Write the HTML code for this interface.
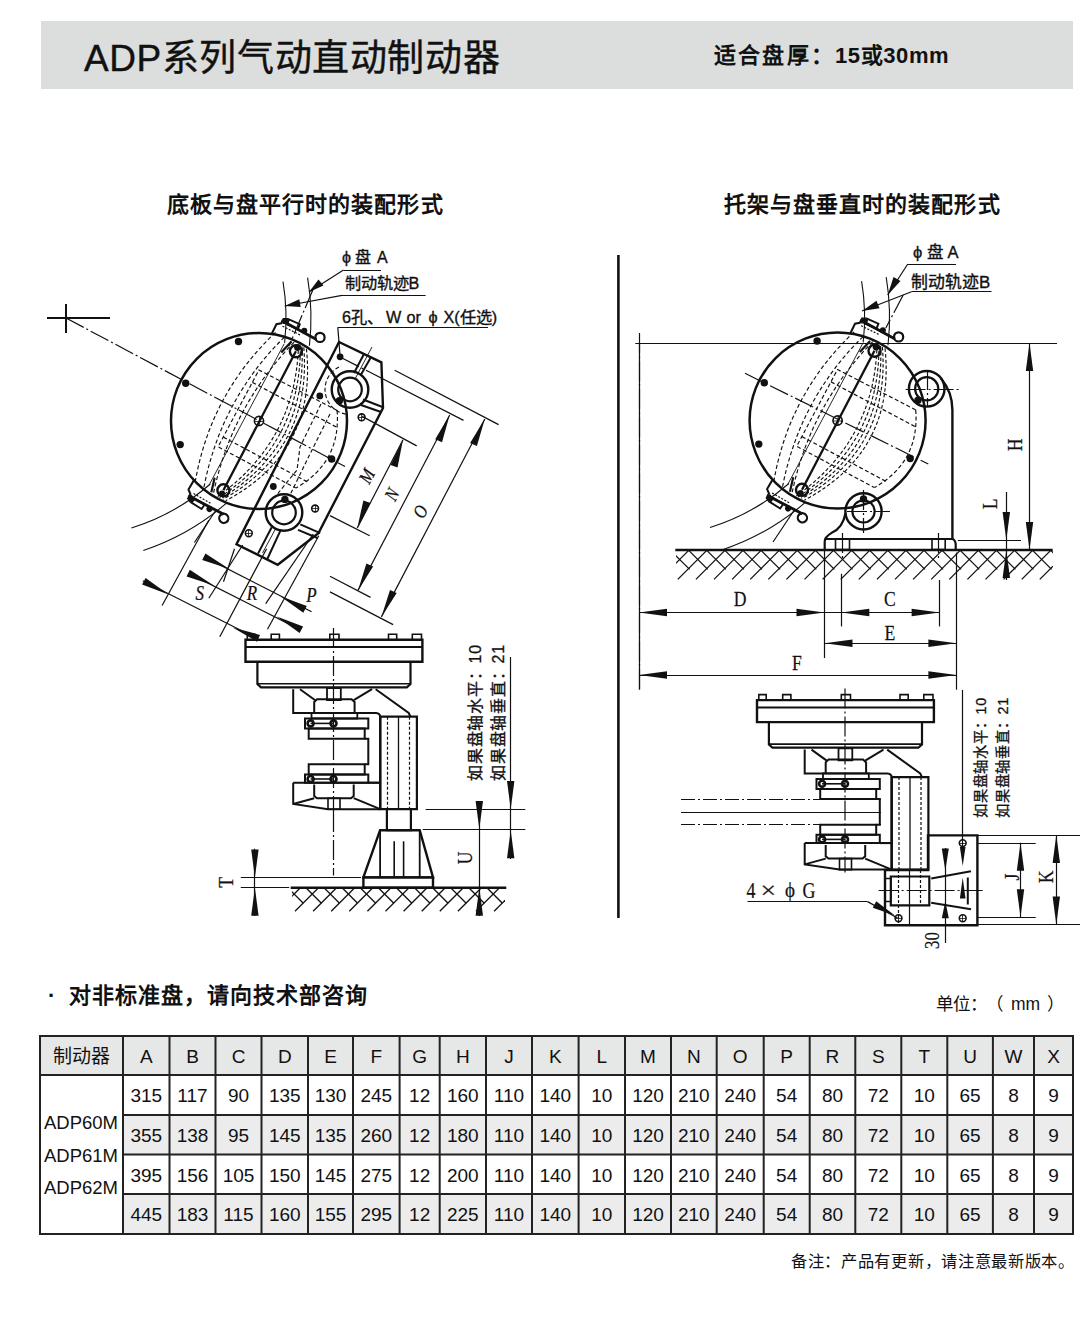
<!DOCTYPE html>
<html lang="zh-CN"><head><meta charset="utf-8">
<style>
html,body{margin:0;padding:0;background:#fff;}
body{width:1091px;height:1335px;position:relative;overflow:hidden;font-family:"Liberation Sans",sans-serif;color:#111;}
.a{position:absolute;white-space:nowrap;line-height:1;}
#band{position:absolute;left:41px;top:21px;width:1032px;height:68px;background:#dcdddd;}
#title{left:84px;top:40px;font-size:37px;letter-spacing:0.6px;color:#111;-webkit-text-stroke:0.4px #111;}
#sub{left:714px;top:45px;font-size:22px;font-weight:bold;}
.sec{font-size:22px;font-weight:bold;top:194px;letter-spacing:1.05px;}
#note1{left:48px;top:985px;font-size:22px;font-weight:bold;letter-spacing:1px;}
#unit{left:936px;top:996px;font-size:17.5px;}
#foot{left:791px;top:1253px;font-size:16.3px;letter-spacing:0.7px;}
.c{position:absolute;text-align:center;font-size:19px;color:#111;padding-top:1px;box-sizing:border-box;}
table{position:absolute;left:40px;top:1036px;border-collapse:collapse;font-size:18px;}
td{border:2px solid #222;text-align:center;padding:0;height:38px;}
tr.h td{background:#dcdddd;}
tr.g td.v{background:#ececec;}
svg{position:absolute;left:0;top:0;}
</style></head><body>
<div id="band"></div>
<div class="a" id="title">ADP系列气动直动制动器</div>
<div class="a" id="sub"><span style="letter-spacing:2.2px">适合盘厚：</span><span style="letter-spacing:0.6px">15或30mm</span></div>
<div class="a sec" style="left:167px">底板与盘平行时的装配形式</div>
<div class="a sec" style="left:724px">托架与盘垂直时的装配形式</div>
<div class="a" id="note1"><span style="position:absolute;left:0">·</span><span style="position:absolute;left:21px">对非标准盘，请向技术部咨询</span></div>
<div class="a" id="unit">单位：<span style="position:absolute;left:50px">（</span><span style="position:absolute;left:75px">mm</span><span style="position:absolute;left:111px">）</span></div>
<div class="a" id="foot">备注：产品有更新，请注意最新版本。</div>
<div id="tbl" style="position:absolute;left:0;top:0;">
<div class="c" style="left:40.0px;top:1036.0px;width:83.0px;height:39.0px;line-height:39.0px;background:#e6e7e7;">制动器</div>
<div class="c" style="left:123.0px;top:1036.0px;width:46.5px;height:39.0px;line-height:39.0px;background:#e6e7e7;">A</div>
<div class="c" style="left:169.5px;top:1036.0px;width:46.0px;height:39.0px;line-height:39.0px;background:#e6e7e7;">B</div>
<div class="c" style="left:215.5px;top:1036.0px;width:46.0px;height:39.0px;line-height:39.0px;background:#e6e7e7;">C</div>
<div class="c" style="left:261.5px;top:1036.0px;width:46.5px;height:39.0px;line-height:39.0px;background:#e6e7e7;">D</div>
<div class="c" style="left:308.0px;top:1036.0px;width:45.0px;height:39.0px;line-height:39.0px;background:#e6e7e7;">E</div>
<div class="c" style="left:353.0px;top:1036.0px;width:46.6px;height:39.0px;line-height:39.0px;background:#e6e7e7;">F</div>
<div class="c" style="left:399.6px;top:1036.0px;width:40.1px;height:39.0px;line-height:39.0px;background:#e6e7e7;">G</div>
<div class="c" style="left:439.7px;top:1036.0px;width:46.3px;height:39.0px;line-height:39.0px;background:#e6e7e7;">H</div>
<div class="c" style="left:486.0px;top:1036.0px;width:46.0px;height:39.0px;line-height:39.0px;background:#e6e7e7;">J</div>
<div class="c" style="left:532.0px;top:1036.0px;width:46.6px;height:39.0px;line-height:39.0px;background:#e6e7e7;">K</div>
<div class="c" style="left:578.6px;top:1036.0px;width:46.4px;height:39.0px;line-height:39.0px;background:#e6e7e7;">L</div>
<div class="c" style="left:625.0px;top:1036.0px;width:46.0px;height:39.0px;line-height:39.0px;background:#e6e7e7;">M</div>
<div class="c" style="left:671.0px;top:1036.0px;width:45.7px;height:39.0px;line-height:39.0px;background:#e6e7e7;">N</div>
<div class="c" style="left:716.7px;top:1036.0px;width:47.0px;height:39.0px;line-height:39.0px;background:#e6e7e7;">O</div>
<div class="c" style="left:763.7px;top:1036.0px;width:46.0px;height:39.0px;line-height:39.0px;background:#e6e7e7;">P</div>
<div class="c" style="left:809.7px;top:1036.0px;width:45.6px;height:39.0px;line-height:39.0px;background:#e6e7e7;">R</div>
<div class="c" style="left:855.3px;top:1036.0px;width:46.0px;height:39.0px;line-height:39.0px;background:#e6e7e7;">S</div>
<div class="c" style="left:901.3px;top:1036.0px;width:46.0px;height:39.0px;line-height:39.0px;background:#e6e7e7;">T</div>
<div class="c" style="left:947.3px;top:1036.0px;width:45.6px;height:39.0px;line-height:39.0px;background:#e6e7e7;">U</div>
<div class="c" style="left:992.9px;top:1036.0px;width:41.1px;height:39.0px;line-height:39.0px;background:#e6e7e7;">W</div>
<div class="c" style="left:1034.0px;top:1036.0px;width:39.0px;height:39.0px;line-height:39.0px;background:#e6e7e7;">X</div>
<div class="c" style="left:123.0px;top:1075.0px;width:46.5px;height:40.0px;line-height:40.0px;">315</div>
<div class="c" style="left:169.5px;top:1075.0px;width:46.0px;height:40.0px;line-height:40.0px;">117</div>
<div class="c" style="left:215.5px;top:1075.0px;width:46.0px;height:40.0px;line-height:40.0px;">90</div>
<div class="c" style="left:261.5px;top:1075.0px;width:46.5px;height:40.0px;line-height:40.0px;">135</div>
<div class="c" style="left:308.0px;top:1075.0px;width:45.0px;height:40.0px;line-height:40.0px;">130</div>
<div class="c" style="left:353.0px;top:1075.0px;width:46.6px;height:40.0px;line-height:40.0px;">245</div>
<div class="c" style="left:399.6px;top:1075.0px;width:40.1px;height:40.0px;line-height:40.0px;">12</div>
<div class="c" style="left:439.7px;top:1075.0px;width:46.3px;height:40.0px;line-height:40.0px;">160</div>
<div class="c" style="left:486.0px;top:1075.0px;width:46.0px;height:40.0px;line-height:40.0px;">110</div>
<div class="c" style="left:532.0px;top:1075.0px;width:46.6px;height:40.0px;line-height:40.0px;">140</div>
<div class="c" style="left:578.6px;top:1075.0px;width:46.4px;height:40.0px;line-height:40.0px;">10</div>
<div class="c" style="left:625.0px;top:1075.0px;width:46.0px;height:40.0px;line-height:40.0px;">120</div>
<div class="c" style="left:671.0px;top:1075.0px;width:45.7px;height:40.0px;line-height:40.0px;">210</div>
<div class="c" style="left:716.7px;top:1075.0px;width:47.0px;height:40.0px;line-height:40.0px;">240</div>
<div class="c" style="left:763.7px;top:1075.0px;width:46.0px;height:40.0px;line-height:40.0px;">54</div>
<div class="c" style="left:809.7px;top:1075.0px;width:45.6px;height:40.0px;line-height:40.0px;">80</div>
<div class="c" style="left:855.3px;top:1075.0px;width:46.0px;height:40.0px;line-height:40.0px;">72</div>
<div class="c" style="left:901.3px;top:1075.0px;width:46.0px;height:40.0px;line-height:40.0px;">10</div>
<div class="c" style="left:947.3px;top:1075.0px;width:45.6px;height:40.0px;line-height:40.0px;">65</div>
<div class="c" style="left:992.9px;top:1075.0px;width:41.1px;height:40.0px;line-height:40.0px;">8</div>
<div class="c" style="left:1034.0px;top:1075.0px;width:39.0px;height:40.0px;line-height:40.0px;">9</div>
<div class="c" style="left:123.0px;top:1115.0px;width:46.5px;height:39.6px;line-height:39.6px;background:#ececec;">355</div>
<div class="c" style="left:169.5px;top:1115.0px;width:46.0px;height:39.6px;line-height:39.6px;background:#ececec;">138</div>
<div class="c" style="left:215.5px;top:1115.0px;width:46.0px;height:39.6px;line-height:39.6px;background:#ececec;">95</div>
<div class="c" style="left:261.5px;top:1115.0px;width:46.5px;height:39.6px;line-height:39.6px;background:#ececec;">145</div>
<div class="c" style="left:308.0px;top:1115.0px;width:45.0px;height:39.6px;line-height:39.6px;background:#ececec;">135</div>
<div class="c" style="left:353.0px;top:1115.0px;width:46.6px;height:39.6px;line-height:39.6px;background:#ececec;">260</div>
<div class="c" style="left:399.6px;top:1115.0px;width:40.1px;height:39.6px;line-height:39.6px;background:#ececec;">12</div>
<div class="c" style="left:439.7px;top:1115.0px;width:46.3px;height:39.6px;line-height:39.6px;background:#ececec;">180</div>
<div class="c" style="left:486.0px;top:1115.0px;width:46.0px;height:39.6px;line-height:39.6px;background:#ececec;">110</div>
<div class="c" style="left:532.0px;top:1115.0px;width:46.6px;height:39.6px;line-height:39.6px;background:#ececec;">140</div>
<div class="c" style="left:578.6px;top:1115.0px;width:46.4px;height:39.6px;line-height:39.6px;background:#ececec;">10</div>
<div class="c" style="left:625.0px;top:1115.0px;width:46.0px;height:39.6px;line-height:39.6px;background:#ececec;">120</div>
<div class="c" style="left:671.0px;top:1115.0px;width:45.7px;height:39.6px;line-height:39.6px;background:#ececec;">210</div>
<div class="c" style="left:716.7px;top:1115.0px;width:47.0px;height:39.6px;line-height:39.6px;background:#ececec;">240</div>
<div class="c" style="left:763.7px;top:1115.0px;width:46.0px;height:39.6px;line-height:39.6px;background:#ececec;">54</div>
<div class="c" style="left:809.7px;top:1115.0px;width:45.6px;height:39.6px;line-height:39.6px;background:#ececec;">80</div>
<div class="c" style="left:855.3px;top:1115.0px;width:46.0px;height:39.6px;line-height:39.6px;background:#ececec;">72</div>
<div class="c" style="left:901.3px;top:1115.0px;width:46.0px;height:39.6px;line-height:39.6px;background:#ececec;">10</div>
<div class="c" style="left:947.3px;top:1115.0px;width:45.6px;height:39.6px;line-height:39.6px;background:#ececec;">65</div>
<div class="c" style="left:992.9px;top:1115.0px;width:41.1px;height:39.6px;line-height:39.6px;background:#ececec;">8</div>
<div class="c" style="left:1034.0px;top:1115.0px;width:39.0px;height:39.6px;line-height:39.6px;background:#ececec;">9</div>
<div class="c" style="left:123.0px;top:1154.6px;width:46.5px;height:39.4px;line-height:39.4px;">395</div>
<div class="c" style="left:169.5px;top:1154.6px;width:46.0px;height:39.4px;line-height:39.4px;">156</div>
<div class="c" style="left:215.5px;top:1154.6px;width:46.0px;height:39.4px;line-height:39.4px;">105</div>
<div class="c" style="left:261.5px;top:1154.6px;width:46.5px;height:39.4px;line-height:39.4px;">150</div>
<div class="c" style="left:308.0px;top:1154.6px;width:45.0px;height:39.4px;line-height:39.4px;">145</div>
<div class="c" style="left:353.0px;top:1154.6px;width:46.6px;height:39.4px;line-height:39.4px;">275</div>
<div class="c" style="left:399.6px;top:1154.6px;width:40.1px;height:39.4px;line-height:39.4px;">12</div>
<div class="c" style="left:439.7px;top:1154.6px;width:46.3px;height:39.4px;line-height:39.4px;">200</div>
<div class="c" style="left:486.0px;top:1154.6px;width:46.0px;height:39.4px;line-height:39.4px;">110</div>
<div class="c" style="left:532.0px;top:1154.6px;width:46.6px;height:39.4px;line-height:39.4px;">140</div>
<div class="c" style="left:578.6px;top:1154.6px;width:46.4px;height:39.4px;line-height:39.4px;">10</div>
<div class="c" style="left:625.0px;top:1154.6px;width:46.0px;height:39.4px;line-height:39.4px;">120</div>
<div class="c" style="left:671.0px;top:1154.6px;width:45.7px;height:39.4px;line-height:39.4px;">210</div>
<div class="c" style="left:716.7px;top:1154.6px;width:47.0px;height:39.4px;line-height:39.4px;">240</div>
<div class="c" style="left:763.7px;top:1154.6px;width:46.0px;height:39.4px;line-height:39.4px;">54</div>
<div class="c" style="left:809.7px;top:1154.6px;width:45.6px;height:39.4px;line-height:39.4px;">80</div>
<div class="c" style="left:855.3px;top:1154.6px;width:46.0px;height:39.4px;line-height:39.4px;">72</div>
<div class="c" style="left:901.3px;top:1154.6px;width:46.0px;height:39.4px;line-height:39.4px;">10</div>
<div class="c" style="left:947.3px;top:1154.6px;width:45.6px;height:39.4px;line-height:39.4px;">65</div>
<div class="c" style="left:992.9px;top:1154.6px;width:41.1px;height:39.4px;line-height:39.4px;">8</div>
<div class="c" style="left:1034.0px;top:1154.6px;width:39.0px;height:39.4px;line-height:39.4px;">9</div>
<div class="c" style="left:123.0px;top:1194.0px;width:46.5px;height:40.0px;line-height:40.0px;background:#ececec;">445</div>
<div class="c" style="left:169.5px;top:1194.0px;width:46.0px;height:40.0px;line-height:40.0px;background:#ececec;">183</div>
<div class="c" style="left:215.5px;top:1194.0px;width:46.0px;height:40.0px;line-height:40.0px;background:#ececec;">115</div>
<div class="c" style="left:261.5px;top:1194.0px;width:46.5px;height:40.0px;line-height:40.0px;background:#ececec;">160</div>
<div class="c" style="left:308.0px;top:1194.0px;width:45.0px;height:40.0px;line-height:40.0px;background:#ececec;">155</div>
<div class="c" style="left:353.0px;top:1194.0px;width:46.6px;height:40.0px;line-height:40.0px;background:#ececec;">295</div>
<div class="c" style="left:399.6px;top:1194.0px;width:40.1px;height:40.0px;line-height:40.0px;background:#ececec;">12</div>
<div class="c" style="left:439.7px;top:1194.0px;width:46.3px;height:40.0px;line-height:40.0px;background:#ececec;">225</div>
<div class="c" style="left:486.0px;top:1194.0px;width:46.0px;height:40.0px;line-height:40.0px;background:#ececec;">110</div>
<div class="c" style="left:532.0px;top:1194.0px;width:46.6px;height:40.0px;line-height:40.0px;background:#ececec;">140</div>
<div class="c" style="left:578.6px;top:1194.0px;width:46.4px;height:40.0px;line-height:40.0px;background:#ececec;">10</div>
<div class="c" style="left:625.0px;top:1194.0px;width:46.0px;height:40.0px;line-height:40.0px;background:#ececec;">120</div>
<div class="c" style="left:671.0px;top:1194.0px;width:45.7px;height:40.0px;line-height:40.0px;background:#ececec;">210</div>
<div class="c" style="left:716.7px;top:1194.0px;width:47.0px;height:40.0px;line-height:40.0px;background:#ececec;">240</div>
<div class="c" style="left:763.7px;top:1194.0px;width:46.0px;height:40.0px;line-height:40.0px;background:#ececec;">54</div>
<div class="c" style="left:809.7px;top:1194.0px;width:45.6px;height:40.0px;line-height:40.0px;background:#ececec;">80</div>
<div class="c" style="left:855.3px;top:1194.0px;width:46.0px;height:40.0px;line-height:40.0px;background:#ececec;">72</div>
<div class="c" style="left:901.3px;top:1194.0px;width:46.0px;height:40.0px;line-height:40.0px;background:#ececec;">10</div>
<div class="c" style="left:947.3px;top:1194.0px;width:45.6px;height:40.0px;line-height:40.0px;background:#ececec;">65</div>
<div class="c" style="left:992.9px;top:1194.0px;width:41.1px;height:40.0px;line-height:40.0px;background:#ececec;">8</div>
<div class="c" style="left:1034.0px;top:1194.0px;width:39.0px;height:40.0px;line-height:40.0px;background:#ececec;">9</div>
<div class="c" style="left:40px;top:1075px;width:83px;height:159px;line-height:31px;padding-top:0px;"><div style="position:absolute;left:4px;top:32px;line-height:32.7px;font-size:18.5px;text-align:left">ADP60M<br>ADP61M<br>ADP62M</div></div>
<svg width="1091" height="1335" style="position:absolute;left:0;top:0">
<line x1="40" y1="1036" x2="40" y2="1234" stroke="#222" stroke-width="2"/>
<line x1="123" y1="1036" x2="123" y2="1234" stroke="#222" stroke-width="2"/>
<line x1="169.5" y1="1036" x2="169.5" y2="1234" stroke="#222" stroke-width="2"/>
<line x1="215.5" y1="1036" x2="215.5" y2="1234" stroke="#222" stroke-width="2"/>
<line x1="261.5" y1="1036" x2="261.5" y2="1234" stroke="#222" stroke-width="2"/>
<line x1="308" y1="1036" x2="308" y2="1234" stroke="#222" stroke-width="2"/>
<line x1="353" y1="1036" x2="353" y2="1234" stroke="#222" stroke-width="2"/>
<line x1="399.6" y1="1036" x2="399.6" y2="1234" stroke="#222" stroke-width="2"/>
<line x1="439.7" y1="1036" x2="439.7" y2="1234" stroke="#222" stroke-width="2"/>
<line x1="486" y1="1036" x2="486" y2="1234" stroke="#222" stroke-width="2"/>
<line x1="532" y1="1036" x2="532" y2="1234" stroke="#222" stroke-width="2"/>
<line x1="578.6" y1="1036" x2="578.6" y2="1234" stroke="#222" stroke-width="2"/>
<line x1="625" y1="1036" x2="625" y2="1234" stroke="#222" stroke-width="2"/>
<line x1="671" y1="1036" x2="671" y2="1234" stroke="#222" stroke-width="2"/>
<line x1="716.7" y1="1036" x2="716.7" y2="1234" stroke="#222" stroke-width="2"/>
<line x1="763.7" y1="1036" x2="763.7" y2="1234" stroke="#222" stroke-width="2"/>
<line x1="809.7" y1="1036" x2="809.7" y2="1234" stroke="#222" stroke-width="2"/>
<line x1="855.3" y1="1036" x2="855.3" y2="1234" stroke="#222" stroke-width="2"/>
<line x1="901.3" y1="1036" x2="901.3" y2="1234" stroke="#222" stroke-width="2"/>
<line x1="947.3" y1="1036" x2="947.3" y2="1234" stroke="#222" stroke-width="2"/>
<line x1="992.9" y1="1036" x2="992.9" y2="1234" stroke="#222" stroke-width="2"/>
<line x1="1034" y1="1036" x2="1034" y2="1234" stroke="#222" stroke-width="2"/>
<line x1="1073" y1="1036" x2="1073" y2="1234" stroke="#222" stroke-width="2"/>
<line x1="39" y1="1036" x2="1074" y2="1036" stroke="#222" stroke-width="2"/>
<line x1="39" y1="1075" x2="1074" y2="1075" stroke="#222" stroke-width="2"/>
<line x1="123" y1="1115" x2="1073" y2="1115" stroke="#222" stroke-width="2"/>
<line x1="123" y1="1154.6" x2="1073" y2="1154.6" stroke="#222" stroke-width="2"/>
<line x1="123" y1="1194" x2="1073" y2="1194" stroke="#222" stroke-width="2"/>
<line x1="39" y1="1234" x2="1074" y2="1234" stroke="#222" stroke-width="2"/>
</svg>
</div>
<svg width="1091" height="1335" viewBox="0 0 1091 1335" style="position:absolute;left:0;top:0"><path d="M283,281.7 A220,220 0 0 1 284.6,342.9" fill="none" stroke="#111" stroke-width="1.1"/>
<path d="M210.3,484 A220,220 0 0 1 131.4,528" fill="none" stroke="#111" stroke-width="1.1"/>
<path d="M307.6,277.6 A245,245 0 0 1 309.4,345.7" fill="none" stroke="#111" stroke-width="1.1"/>
<path d="M226.7,502.9 A245,245 0 0 1 143.3,550.5" fill="none" stroke="#111" stroke-width="1.1"/>
<path d="M298.5,344.6 Q296.1,440.7 217.7,496.5" fill="none" stroke="#111" stroke-width="1.15" stroke-dasharray="3.5 2.2"/>
<path d="M300.3,345.5 Q301.4,443.5 219.5,497.4" fill="none" stroke="#111" stroke-width="1.15" stroke-dasharray="3.5 2.2"/>
<path d="M302,346.5 Q306.7,446.4 221.3,498.3" fill="none" stroke="#111" stroke-width="1.15" stroke-dasharray="3.5 2.2"/>
<path d="M303.8,347.4 Q312,449.2 223,499.3" fill="none" stroke="#111" stroke-width="1.15" stroke-dasharray="3.5 2.2"/>
<path d="M306.4,348.8 Q317.3,452 225.7,500.7" fill="none" stroke="#111" stroke-width="1.15" stroke-dasharray="3.5 2.2"/>
<line x1="284.2" y1="343.8" x2="209.1" y2="485.1" stroke="#111" stroke-width="0.9"/>
<polyline points="337.1,410.4 258.9,370 218.1,446.8 295.8,488.1" fill="none" stroke="#111" stroke-width="1.15" stroke-linejoin="miter" stroke-dasharray="4 2.5"/>
<path d="M337.1,410.4 Q341.2,462.4 295.8,488.1" fill="none" stroke="#111" stroke-width="1.15" stroke-dasharray="4 2.5"/>
<line x1="252.4" y1="382.4" x2="337.1" y2="427.4" stroke="#111" stroke-width="1.2" stroke-dasharray="4 2.5"/>
<line x1="223.3" y1="437.1" x2="308" y2="482.2" stroke="#111" stroke-width="1.2" stroke-dasharray="4 2.5"/>
<path d="M275.5,332.4 Q209.6,394.7 194.8,484.3" fill="none" stroke="#111" stroke-width="1.15" stroke-dasharray="4 2.5"/>
<path d="M284.4,337.1 Q220.2,400.3 203.6,489" fill="none" stroke="#111" stroke-width="1.15" stroke-dasharray="4 2.5"/>
<path d="M294.1,342.2 Q231.6,406.4 213.3,494.1" fill="none" stroke="#111" stroke-width="1.15" stroke-dasharray="4 2.5"/>
<line x1="295.9" y1="351.3" x2="223.4" y2="490.3" stroke="#111" stroke-width="2.3"/>
<circle cx="259" cy="421" r="4.6" fill="none" stroke="#111" stroke-width="1.6"/>
<line x1="254" y1="421.5" x2="264" y2="421.5" stroke="#111" stroke-width="0.8"/>
<line x1="259.5" y1="416" x2="259.5" y2="426" stroke="#111" stroke-width="0.8"/>
<circle cx="295.9" cy="351.3" r="6" fill="none" stroke="#111" stroke-width="2.4"/>
<circle cx="297.5" cy="347.5" r="3.4" fill="#111"/>
<circle cx="223.4" cy="490.3" r="6" fill="none" stroke="#111" stroke-width="2.4"/>
<circle cx="222" cy="493.5" r="3" fill="#111"/>
<circle cx="259" cy="421" r="88" fill="none" stroke="#111" stroke-width="2.5"/>
<circle cx="238.5" cy="341.5" r="3.7" fill="#111"/>
<circle cx="185.7" cy="383.2" r="3.7" fill="#111"/>
<circle cx="180.2" cy="444.6" r="3.7" fill="#111"/>
<circle cx="331.6" cy="459" r="3.7" fill="#111"/>
<circle cx="339.4" cy="400.7" r="3.7" fill="#111"/>
<circle cx="284.9" cy="499.4" r="3.7" fill="#111"/>
<line x1="194.4" y1="542.5" x2="216.4" y2="509.5" stroke="#111" stroke-width="1.2"/>
<polyline points="271.9,333.5 276.4,324.2 281.2,323.3 283.5,319.5" fill="none" stroke="#111" stroke-width="2.0" stroke-linejoin="miter"/>
<polygon points="288.9,319.4 299.8,324.2 297.9,329.2 287.3,324.4" fill="none" stroke="#111" stroke-width="1.9" stroke-linejoin="miter"/>
<line x1="281.5" y1="320.5" x2="316.5" y2="339.6" stroke="#111" stroke-width="2.8"/>
<polygon points="283.2,318.6 287.7,318.6 287.7,323.4 283.2,323.4" fill="#111" stroke="#111" stroke-width="1.2" stroke-linejoin="miter"/>
<circle cx="304.3" cy="330.7" r="3" fill="#111"/>
<circle cx="320" cy="337.4" r="4.6" fill="none" stroke="#111" stroke-width="2.2"/>
<line x1="282.5" y1="326.2" x2="300.5" y2="335.1" stroke="#111" stroke-width="1.2" stroke-dasharray="2 1.5"/>
<line x1="281.2" y1="352.5" x2="291.5" y2="341.6" stroke="#111" stroke-width="2.2"/>
<g transform="translate(259,421) rotate(28) scale(1,-1) rotate(-28) translate(-259,-421)">
<polyline points="271.9,333.5 276.4,324.2 281.2,323.3 283.5,319.5" fill="none" stroke="#111" stroke-width="2.0" stroke-linejoin="miter"/>
<polygon points="288.9,319.4 299.8,324.2 297.9,329.2 287.3,324.4" fill="none" stroke="#111" stroke-width="1.9" stroke-linejoin="miter"/>
<line x1="281.5" y1="320.5" x2="316.5" y2="339.6" stroke="#111" stroke-width="2.8"/>
<polygon points="283.2,318.6 287.7,318.6 287.7,323.4 283.2,323.4" fill="#111" stroke="#111" stroke-width="1.2" stroke-linejoin="miter"/>
<circle cx="304.3" cy="330.7" r="3" fill="#111"/>
<circle cx="320" cy="337.4" r="4.6" fill="none" stroke="#111" stroke-width="2.2"/>
<line x1="282.5" y1="326.2" x2="300.5" y2="335.1" stroke="#111" stroke-width="1.2" stroke-dasharray="2 1.5"/>
<line x1="281.2" y1="352.5" x2="291.5" y2="341.6" stroke="#111" stroke-width="2.2"/>
</g>
<line x1="47" y1="318" x2="110" y2="318" stroke="#111" stroke-width="2.0"/>
<line x1="66" y1="304" x2="66" y2="333" stroke="#111" stroke-width="2.0"/>
<line x1="66" y1="318" x2="345" y2="466.5" stroke="#111" stroke-width="1.2" stroke-dasharray="20 3 2 3"/>
<polygon points="339,342 381.4,362.3 383,408 318.4,533.2 277.7,564.8 236.5,544.2" fill="none" stroke="#111" stroke-width="2.4" stroke-linejoin="miter"/>
<circle cx="350" cy="389.5" r="18.3" fill="none" stroke="#111" stroke-width="2.4"/>
<circle cx="350" cy="389.5" r="11.8" fill="none" stroke="#111" stroke-width="2.2"/>
<circle cx="284" cy="512.5" r="18.3" fill="none" stroke="#111" stroke-width="2.4"/>
<circle cx="284" cy="512.5" r="11.8" fill="none" stroke="#111" stroke-width="2.2"/>
<line x1="354" y1="373" x2="364" y2="354" stroke="#111" stroke-width="2.0"/>
<line x1="360.5" y1="375.5" x2="370.5" y2="358" stroke="#111" stroke-width="2.0"/>
<line x1="355" y1="379" x2="372" y2="347" stroke="#111" stroke-width="0.9"/>
<line x1="363" y1="399.5" x2="382.5" y2="407" stroke="#111" stroke-width="2.0"/>
<line x1="361" y1="405" x2="381" y2="412" stroke="#111" stroke-width="2.0"/>
<line x1="258" y1="553.6" x2="271.7" y2="527.2" stroke="#111" stroke-width="2.0"/>
<line x1="267.3" y1="559" x2="281" y2="529.4" stroke="#111" stroke-width="2.0"/>
<line x1="262.5" y1="553" x2="276" y2="528" stroke="#111" stroke-width="0.9"/>
<line x1="300.3" y1="524.3" x2="320.2" y2="533.2" stroke="#111" stroke-width="2.0"/>
<line x1="298" y1="529.8" x2="317.5" y2="538" stroke="#111" stroke-width="2.0"/>
<circle cx="361.6" cy="417.3" r="3.4" fill="none" stroke="#111" stroke-width="1.6"/>
<line x1="358.2" y1="417.5" x2="365" y2="417.5" stroke="#111" stroke-width="0.8"/>
<line x1="361.5" y1="413.9" x2="361.5" y2="420.7" stroke="#111" stroke-width="0.8"/>
<circle cx="248.8" cy="533.2" r="3.4" fill="none" stroke="#111" stroke-width="1.6"/>
<line x1="245.4" y1="533.5" x2="252.2" y2="533.5" stroke="#111" stroke-width="0.8"/>
<line x1="248.5" y1="529.8" x2="248.5" y2="536.6" stroke="#111" stroke-width="0.8"/>
<circle cx="315.1" cy="508.5" r="3.4" fill="none" stroke="#111" stroke-width="1.6"/>
<line x1="311.7" y1="508.5" x2="318.5" y2="508.5" stroke="#111" stroke-width="0.8"/>
<line x1="315.5" y1="505.1" x2="315.5" y2="511.9" stroke="#111" stroke-width="0.8"/>
<circle cx="340.1" cy="356.8" r="3.4" fill="#111"/>
<circle cx="319.8" cy="395.9" r="3.4" fill="#111"/>
<circle cx="273.3" cy="486.5" r="3.4" fill="#111"/>
<path d="M345.7,414.1 A25,25 0 0 1 341.4,366" fill="none" stroke="#111" stroke-width="1.15" stroke-dasharray="4 2.5"/>
<polyline points="321,404 300,447 297,470 275,497" fill="none" stroke="#111" stroke-width="1.15" stroke-linejoin="miter" stroke-dasharray="4 2.5"/>
<polyline points="330,414 309,456 290,495" fill="none" stroke="#111" stroke-width="1.15" stroke-linejoin="miter" stroke-dasharray="4 2.5"/>
<line x1="343.5" y1="270.5" x2="381" y2="270.5" stroke="#111" stroke-width="1.2"/>
<line x1="343.5" y1="270" x2="309" y2="292" stroke="#111" stroke-width="1.2"/>
<polygon points="309,292 323.5,285.6 318.5,279.4" fill="#111"/>
<line x1="342" y1="295.5" x2="425.6" y2="295.5" stroke="#111" stroke-width="1.2"/>
<line x1="342" y1="295.3" x2="284.7" y2="306" stroke="#111" stroke-width="1.2"/>
<polygon points="284.7,306 300.7,307.1 299.3,299.3" fill="#111"/>
<line x1="313" y1="289.5" x2="289" y2="346" stroke="#111" stroke-width="1.2" stroke-dasharray="20 3 2 3"/>
<line x1="337.8" y1="327.5" x2="488" y2="327.5" stroke="#111" stroke-width="1.2"/>
<line x1="337.8" y1="327.4" x2="340" y2="355" stroke="#111" stroke-width="1.2"/>
<line x1="362.2" y1="416.4" x2="416.7" y2="445.9" stroke="#111" stroke-width="1.2"/>
<line x1="330" y1="515.6" x2="369.7" y2="535.8" stroke="#111" stroke-width="1.2"/>
<line x1="403" y1="439.7" x2="357.3" y2="528" stroke="#111" stroke-width="1.2"/>
<polygon points="403,439.7 390.5,465 397.5,467.4" fill="#111"/>
<polygon points="357.3,528 370.4,503 363.4,500.4" fill="#111"/>
<line x1="341" y1="357.5" x2="370" y2="372.3" stroke="#111" stroke-width="1.2" stroke-dasharray="20 3 2 3"/>
<line x1="370" y1="372.3" x2="463.5" y2="420.4" stroke="#111" stroke-width="1.2"/>
<line x1="330" y1="576.3" x2="370.5" y2="597.4" stroke="#111" stroke-width="1.2"/>
<line x1="449.7" y1="415" x2="358" y2="590.4" stroke="#111" stroke-width="1.2"/>
<polygon points="449.7,415 435.2,439.2 442,442.2" fill="#111"/>
<polygon points="358,590.4 373.1,566.5 366.4,563.4" fill="#111"/>
<line x1="394.7" y1="370.2" x2="498.6" y2="424.6" stroke="#111" stroke-width="1.2"/>
<line x1="330" y1="591.9" x2="393.1" y2="624.6" stroke="#111" stroke-width="1.2"/>
<line x1="484.8" y1="419" x2="381.4" y2="616.9" stroke="#111" stroke-width="1.2"/>
<polygon points="484.8,419 470.1,443.1 476.9,446.1" fill="#111"/>
<polygon points="381.4,616.9 396.7,593.1 390,590" fill="#111"/>
<text x="0" y="0" font-size="19" font-family="'Liberation Serif',serif" text-anchor="middle" fill="#111" stroke="#111" stroke-width="0.25" font-style="italic" transform="translate(372.3,479) rotate(-62) scale(0.85,1)">M</text>
<text x="0" y="0" font-size="19" font-family="'Liberation Serif',serif" text-anchor="middle" fill="#111" stroke="#111" stroke-width="0.25" font-style="italic" transform="translate(397.5,497.6) rotate(-62) scale(0.85,1)">N</text>
<text x="0" y="0" font-size="19" font-family="'Liberation Serif',serif" text-anchor="middle" fill="#111" stroke="#111" stroke-width="0.25" font-style="italic" transform="translate(426,514.7) rotate(-62) scale(0.85,1)">O</text>
<line x1="208.8" y1="520.2" x2="162.1" y2="605.5" stroke="#111" stroke-width="1.2"/>
<line x1="234.5" y1="548.7" x2="223.5" y2="581.7" stroke="#111" stroke-width="1.2"/>
<line x1="242.7" y1="545" x2="208.8" y2="598.2" stroke="#111" stroke-width="1.2"/>
<line x1="266.6" y1="548.7" x2="219.8" y2="636.7" stroke="#111" stroke-width="1.2"/>
<line x1="313.3" y1="534" x2="265.7" y2="603.7" stroke="#111" stroke-width="1.2"/>
<line x1="318.8" y1="535.8" x2="267.5" y2="629.3" stroke="#111" stroke-width="1.2"/>
<line x1="204.2" y1="556.9" x2="311.6" y2="611.8" stroke="#111" stroke-width="1.2"/>
<polygon points="229,568.8 205.4,553.4 202.2,560" fill="#111"/>
<polygon points="280.3,596.3 303.3,612.7 306.8,606.1" fill="#111"/>
<line x1="188.7" y1="573.4" x2="300.5" y2="629.9" stroke="#111" stroke-width="1.2"/>
<polygon points="213.4,585.3 189.8,569.8 186.6,576.5" fill="#111"/>
<polygon points="276.7,616.5 299.6,633 303.1,626.5" fill="#111"/>
<line x1="142.8" y1="580.7" x2="254.1" y2="637" stroke="#111" stroke-width="1.2"/>
<polygon points="168.5,594.5 145.6,578 142.1,584.5" fill="#111"/>
<polygon points="232.7,627.5 257.1,641.7 260,634.9" fill="#111"/>
<text x="0" y="0" font-size="20" font-family="'Liberation Serif',serif" text-anchor="middle" fill="#111" stroke="#111" stroke-width="0.25" font-style="italic" transform="translate(199.7,600.2) scale(0.85,1)">S</text>
<text x="0" y="0" font-size="20" font-family="'Liberation Serif',serif" text-anchor="middle" fill="#111" stroke="#111" stroke-width="0.25" font-style="italic" transform="translate(252,600.2) scale(0.85,1)">R</text>
<text x="0" y="0" font-size="20" font-family="'Liberation Serif',serif" text-anchor="middle" fill="#111" stroke="#111" stroke-width="0.25" font-style="italic" transform="translate(311.5,602) scale(0.85,1)">P</text>
<polygon points="247.3,634.2 254.7,634.2 254.7,639.7 247.3,639.7" fill="none" stroke="#111" stroke-width="1.6" stroke-linejoin="miter"/>
<polygon points="271.2,634.2 279.4,634.2 279.4,639.7 271.2,639.7" fill="none" stroke="#111" stroke-width="1.6" stroke-linejoin="miter"/>
<polygon points="329.8,634.2 339,634.2 339,639.7 329.8,639.7" fill="none" stroke="#111" stroke-width="1.6" stroke-linejoin="miter"/>
<polygon points="388.5,634.2 396.7,634.2 396.7,639.7 388.5,639.7" fill="none" stroke="#111" stroke-width="1.6" stroke-linejoin="miter"/>
<polygon points="412.3,634.2 421.5,634.2 421.5,639.7 412.3,639.7" fill="none" stroke="#111" stroke-width="1.6" stroke-linejoin="miter"/>
<polygon points="245.5,639.7 422.4,639.7 422.4,661.7 245.5,661.7" fill="none" stroke="#111" stroke-width="2.4" stroke-linejoin="miter"/>
<line x1="245.5" y1="647" x2="422.4" y2="647" stroke="#111" stroke-width="2.0"/>
<polyline points="257.4,661.7 257.4,684 261,687.3 406.8,687.3 410.5,684 410.5,661.7" fill="none" stroke="#111" stroke-width="2.2" stroke-linejoin="miter"/>
<line x1="257.4" y1="683.7" x2="410.5" y2="683.7" stroke="#111" stroke-width="1.6"/>
<polygon points="327,688 340.8,688 340.8,700 327,700" fill="none" stroke="#111" stroke-width="1.8" stroke-linejoin="miter"/>
<polyline points="293.2,689.2 293.2,713 357.3,713" fill="none" stroke="#111" stroke-width="2.0" stroke-linejoin="miter"/>
<line x1="300" y1="689.2" x2="315.2" y2="700.2" stroke="#111" stroke-width="2.0"/>
<line x1="372" y1="689.2" x2="353.7" y2="700.2" stroke="#111" stroke-width="2.0"/>
<polyline points="314.2,713 314.2,702 317,699.2 351.5,699.2 354.6,702 354.6,713" fill="none" stroke="#111" stroke-width="2.0" stroke-linejoin="miter"/>
<polyline points="375.7,689.2 408.7,713 410.5,716.7" fill="none" stroke="#111" stroke-width="2.0" stroke-linejoin="miter"/>
<path d="M357.3,713 L376,713 Q380.2,713.5 380.2,717" fill="none" stroke="#111" stroke-width="2.0"/>
<polygon points="380.2,716.7 416.9,716.7 416.9,809.2 380.2,809.2" fill="none" stroke="#111" stroke-width="2.2" stroke-linejoin="miter"/>
<line x1="387.5" y1="716.7" x2="387.5" y2="809.2" stroke="#111" stroke-width="1.2" stroke-dasharray="3 2"/>
<line x1="409.5" y1="716.7" x2="409.5" y2="809.2" stroke="#111" stroke-width="1.2" stroke-dasharray="3 2"/>
<line x1="398.5" y1="716.7" x2="398.5" y2="809.2" stroke="#111" stroke-width="1.3"/>
<line x1="380.2" y1="716.7" x2="380.2" y2="809.2" stroke="#111" stroke-width="2.4"/>
<polygon points="311.5,713 357.3,713 357.3,718.5 311.5,718.5" fill="none" stroke="#111" stroke-width="1.8" stroke-linejoin="miter"/>
<polygon points="305,718.5 368.3,718.5 368.3,728.6 305,728.6" fill="none" stroke="#111" stroke-width="2.0" stroke-linejoin="miter"/>
<circle cx="310.6" cy="723.4" r="3" fill="none" stroke="#111" stroke-width="2.6"/>
<circle cx="333.5" cy="723.4" r="3" fill="none" stroke="#111" stroke-width="2.6"/>
<line x1="310.6" y1="723.4" x2="333.5" y2="723.4" stroke="#111" stroke-width="1.6"/>
<polygon points="308.7,728.6 364.7,728.6 364.7,738.7 308.7,738.7" fill="none" stroke="#111" stroke-width="2.0" stroke-linejoin="miter"/>
<polyline points="364.7,738.7 368.3,738.7 368.3,764.3 364.7,764.3" fill="none" stroke="#111" stroke-width="2.0" stroke-linejoin="miter"/>
<polygon points="308.7,764.3 364.7,764.3 364.7,774.4 308.7,774.4" fill="none" stroke="#111" stroke-width="2.0" stroke-linejoin="miter"/>
<polygon points="305,774.4 368.3,774.4 368.3,782.7 305,782.7" fill="none" stroke="#111" stroke-width="2.0" stroke-linejoin="miter"/>
<circle cx="310.6" cy="779" r="3" fill="none" stroke="#111" stroke-width="2.6"/>
<circle cx="333.5" cy="779" r="3" fill="none" stroke="#111" stroke-width="2.6"/>
<line x1="310.6" y1="779" x2="333.5" y2="779" stroke="#111" stroke-width="1.6"/>
<polyline points="293.2,782.7 380.2,782.7" fill="none" stroke="#111" stroke-width="2.0" stroke-linejoin="miter"/>
<polyline points="293.2,782.7 293.2,804 328,809.2 380.2,809.2" fill="none" stroke="#111" stroke-width="2.0" stroke-linejoin="miter"/>
<line x1="293.2" y1="804" x2="314.2" y2="798.2" stroke="#111" stroke-width="2.0"/>
<line x1="353.7" y1="798.2" x2="380.2" y2="809.2" stroke="#111" stroke-width="2.0"/>
<polyline points="314.2,784.5 314.2,796 317,798.2 351,798.2 353.7,796 353.7,784.5" fill="none" stroke="#111" stroke-width="2.0" stroke-linejoin="miter"/>
<polygon points="328,798.2 340,798.2 340,809.2 328,809.2" fill="none" stroke="#111" stroke-width="1.6" stroke-linejoin="miter"/>
<line x1="368.3" y1="782.7" x2="380.2" y2="782.7" stroke="#111" stroke-width="2.0"/>
<line x1="333.5" y1="628" x2="333.5" y2="812" stroke="#111" stroke-width="1.2" stroke-dasharray="20 3 2 3"/>
<polygon points="386.9,809 410.9,809 410.9,830.2 386.9,830.2" fill="none" stroke="#111" stroke-width="2.2" stroke-linejoin="miter"/>
<polygon points="380.1,830.2 419.7,830.2 433,877.4 363.4,877.4" fill="none" stroke="#111" stroke-width="2.4" stroke-linejoin="miter"/>
<line x1="380.1" y1="830.2" x2="380.1" y2="877.4" stroke="#111" stroke-width="1.8"/>
<line x1="419.7" y1="830.2" x2="419.7" y2="877.4" stroke="#111" stroke-width="1.8"/>
<line x1="394.2" y1="841.3" x2="394.2" y2="877.4" stroke="#111" stroke-width="1.6"/>
<line x1="403.6" y1="841.3" x2="403.6" y2="877.4" stroke="#111" stroke-width="1.6"/>
<polygon points="363.4,877.4 433,877.4 433,887.7 363.4,887.7" fill="none" stroke="#111" stroke-width="2.4" stroke-linejoin="miter"/>
<line x1="333.5" y1="812" x2="333.5" y2="875.5" stroke="#111" stroke-width="1.2" stroke-dasharray="20 3 2 3"/>
<clipPath id="h292"><rect x="292" y="887.2" width="213" height="26"/></clipPath><g clip-path="url(#h292)">
<line x1="299.9" y1="888.2" x2="276.9" y2="911.2" stroke="#111" stroke-width="1.3"/>
<line x1="288.3" y1="888.2" x2="303.3" y2="903.2" stroke="#111" stroke-width="1.3"/>
<line x1="318" y1="888.2" x2="295" y2="911.2" stroke="#111" stroke-width="1.3"/>
<line x1="306.4" y1="888.2" x2="321.4" y2="903.2" stroke="#111" stroke-width="1.3"/>
<line x1="336.1" y1="888.2" x2="313.1" y2="911.2" stroke="#111" stroke-width="1.3"/>
<line x1="324.5" y1="888.2" x2="339.5" y2="903.2" stroke="#111" stroke-width="1.3"/>
<line x1="354.2" y1="888.2" x2="331.2" y2="911.2" stroke="#111" stroke-width="1.3"/>
<line x1="342.6" y1="888.2" x2="357.6" y2="903.2" stroke="#111" stroke-width="1.3"/>
<line x1="372.3" y1="888.2" x2="349.3" y2="911.2" stroke="#111" stroke-width="1.3"/>
<line x1="360.7" y1="888.2" x2="375.7" y2="903.2" stroke="#111" stroke-width="1.3"/>
<line x1="390.4" y1="888.2" x2="367.4" y2="911.2" stroke="#111" stroke-width="1.3"/>
<line x1="378.8" y1="888.2" x2="393.8" y2="903.2" stroke="#111" stroke-width="1.3"/>
<line x1="408.5" y1="888.2" x2="385.5" y2="911.2" stroke="#111" stroke-width="1.3"/>
<line x1="396.9" y1="888.2" x2="411.9" y2="903.2" stroke="#111" stroke-width="1.3"/>
<line x1="426.6" y1="888.2" x2="403.6" y2="911.2" stroke="#111" stroke-width="1.3"/>
<line x1="415" y1="888.2" x2="430" y2="903.2" stroke="#111" stroke-width="1.3"/>
<line x1="444.7" y1="888.2" x2="421.7" y2="911.2" stroke="#111" stroke-width="1.3"/>
<line x1="433.1" y1="888.2" x2="448.1" y2="903.2" stroke="#111" stroke-width="1.3"/>
<line x1="462.8" y1="888.2" x2="439.8" y2="911.2" stroke="#111" stroke-width="1.3"/>
<line x1="451.2" y1="888.2" x2="466.2" y2="903.2" stroke="#111" stroke-width="1.3"/>
<line x1="480.9" y1="888.2" x2="457.9" y2="911.2" stroke="#111" stroke-width="1.3"/>
<line x1="469.3" y1="888.2" x2="484.3" y2="903.2" stroke="#111" stroke-width="1.3"/>
<line x1="499" y1="888.2" x2="476" y2="911.2" stroke="#111" stroke-width="1.3"/>
<line x1="487.4" y1="888.2" x2="502.4" y2="903.2" stroke="#111" stroke-width="1.3"/>
<line x1="517.1" y1="888.2" x2="494.1" y2="911.2" stroke="#111" stroke-width="1.3"/>
<line x1="505.5" y1="888.2" x2="520.5" y2="903.2" stroke="#111" stroke-width="1.3"/>
</g>
<line x1="290.7" y1="887.7" x2="506.3" y2="887.7" stroke="#111" stroke-width="2.6"/>
<line x1="240.8" y1="877.5" x2="361" y2="877.5" stroke="#111" stroke-width="1.2"/>
<line x1="240.8" y1="887.5" x2="289.2" y2="887.5" stroke="#111" stroke-width="1.2"/>
<line x1="254.5" y1="848.7" x2="254.5" y2="916" stroke="#111" stroke-width="1.2"/>
<polygon points="254.9,877.4 258.6,849.4 251.2,849.4" fill="#111"/>
<polygon points="254.9,887.7 251.2,915.7 258.6,915.7" fill="#111"/>
<text x="0" y="0" font-size="22" font-family="'Liberation Serif',serif" text-anchor="middle" fill="#111" stroke="#111" stroke-width="0.25" transform="translate(233.3,882.4) rotate(-90) scale(0.8,1)">T</text>
<line x1="425.6" y1="809.5" x2="525.3" y2="809.5" stroke="#111" stroke-width="1.2"/>
<line x1="422.7" y1="829.5" x2="525.3" y2="829.5" stroke="#111" stroke-width="1.2"/>
<line x1="479.5" y1="801.7" x2="479.5" y2="916" stroke="#111" stroke-width="1.2"/>
<polygon points="479.3,829 483,801 475.6,801" fill="#111"/>
<polygon points="479.3,887.7 475.6,915.7 483,915.7" fill="#111"/>
<text x="0" y="0" font-size="22" font-family="'Liberation Serif',serif" text-anchor="middle" fill="#111" stroke="#111" stroke-width="0.25" transform="translate(472.3,858) rotate(-90) scale(0.8,1)">U</text>
<line x1="510.5" y1="657" x2="510.5" y2="859" stroke="#111" stroke-width="1.2"/>
<polygon points="510.7,809 514.4,781 507,781" fill="#111"/>
<polygon points="510.7,830.2 507,858.2 514.4,858.2" fill="#111"/>
<text x="0" y="0" font-size="16" letter-spacing="0.8" font-family="'Liberation Sans',sans-serif" fill="#111" stroke="#111" stroke-width="0.3" transform="translate(481,781) rotate(-90)">如果盘轴水平：<tspan dx="0">10</tspan></text>
<text x="0" y="0" font-size="16" letter-spacing="0.8" font-family="'Liberation Sans',sans-serif" fill="#111" stroke="#111" stroke-width="0.3" transform="translate(504,781) rotate(-90)">如果盘轴垂直：<tspan dx="0">21</tspan></text>
<line x1="618.4" y1="255" x2="618.4" y2="918" stroke="#111" stroke-width="2.6"/>
<g transform="translate(578.6,-0.5)">
<path d="M283,281.7 A220,220 0 0 1 284.6,342.9" fill="none" stroke="#111" stroke-width="1.1"/>
<path d="M210.3,484 A220,220 0 0 1 131.4,528" fill="none" stroke="#111" stroke-width="1.1"/>
<path d="M307.6,277.6 A245,245 0 0 1 309.4,345.7" fill="none" stroke="#111" stroke-width="1.1"/>
<path d="M226.7,502.9 A245,245 0 0 1 143.3,550.5" fill="none" stroke="#111" stroke-width="1.1"/>
<path d="M298.5,344.6 Q296.1,440.7 217.7,496.5" fill="none" stroke="#111" stroke-width="1.15" stroke-dasharray="3.5 2.2"/>
<path d="M300.3,345.5 Q301.4,443.5 219.5,497.4" fill="none" stroke="#111" stroke-width="1.15" stroke-dasharray="3.5 2.2"/>
<path d="M302,346.5 Q306.7,446.4 221.3,498.3" fill="none" stroke="#111" stroke-width="1.15" stroke-dasharray="3.5 2.2"/>
<path d="M303.8,347.4 Q312,449.2 223,499.3" fill="none" stroke="#111" stroke-width="1.15" stroke-dasharray="3.5 2.2"/>
<path d="M306.4,348.8 Q317.3,452 225.7,500.7" fill="none" stroke="#111" stroke-width="1.15" stroke-dasharray="3.5 2.2"/>
<line x1="284.2" y1="343.8" x2="209.1" y2="485.1" stroke="#111" stroke-width="0.9"/>
<polyline points="337.1,410.4 258.9,370 218.1,446.8 295.8,488.1" fill="none" stroke="#111" stroke-width="1.15" stroke-linejoin="miter" stroke-dasharray="4 2.5"/>
<path d="M337.1,410.4 Q341.2,462.4 295.8,488.1" fill="none" stroke="#111" stroke-width="1.15" stroke-dasharray="4 2.5"/>
<line x1="252.4" y1="382.4" x2="337.1" y2="427.4" stroke="#111" stroke-width="1.2" stroke-dasharray="4 2.5"/>
<line x1="223.3" y1="437.1" x2="308" y2="482.2" stroke="#111" stroke-width="1.2" stroke-dasharray="4 2.5"/>
<path d="M275.5,332.4 Q209.6,394.7 194.8,484.3" fill="none" stroke="#111" stroke-width="1.15" stroke-dasharray="4 2.5"/>
<path d="M284.4,337.1 Q220.2,400.3 203.6,489" fill="none" stroke="#111" stroke-width="1.15" stroke-dasharray="4 2.5"/>
<path d="M294.1,342.2 Q231.6,406.4 213.3,494.1" fill="none" stroke="#111" stroke-width="1.15" stroke-dasharray="4 2.5"/>
<line x1="295.9" y1="351.3" x2="223.4" y2="490.3" stroke="#111" stroke-width="2.3"/>
<circle cx="259" cy="421" r="4.6" fill="none" stroke="#111" stroke-width="1.6"/>
<line x1="254" y1="421.5" x2="264" y2="421.5" stroke="#111" stroke-width="0.8"/>
<line x1="259.5" y1="416" x2="259.5" y2="426" stroke="#111" stroke-width="0.8"/>
<circle cx="295.9" cy="351.3" r="6" fill="none" stroke="#111" stroke-width="2.4"/>
<circle cx="297.5" cy="347.5" r="3.4" fill="#111"/>
<circle cx="223.4" cy="490.3" r="6" fill="none" stroke="#111" stroke-width="2.4"/>
<circle cx="222" cy="493.5" r="3" fill="#111"/>
<circle cx="259" cy="421" r="88" fill="none" stroke="#111" stroke-width="2.5"/>
<circle cx="238.5" cy="341.5" r="3.7" fill="#111"/>
<circle cx="185.7" cy="383.2" r="3.7" fill="#111"/>
<circle cx="180.2" cy="444.6" r="3.7" fill="#111"/>
<circle cx="331.6" cy="459" r="3.7" fill="#111"/>
<circle cx="339.4" cy="400.7" r="3.7" fill="#111"/>
<circle cx="284.9" cy="499.4" r="3.7" fill="#111"/>
<line x1="194.4" y1="542.5" x2="216.4" y2="509.5" stroke="#111" stroke-width="1.2"/>
<polyline points="271.9,333.5 276.4,324.2 281.2,323.3 283.5,319.5" fill="none" stroke="#111" stroke-width="2.0" stroke-linejoin="miter"/>
<polygon points="288.9,319.4 299.8,324.2 297.9,329.2 287.3,324.4" fill="none" stroke="#111" stroke-width="1.9" stroke-linejoin="miter"/>
<line x1="281.5" y1="320.5" x2="316.5" y2="339.6" stroke="#111" stroke-width="2.8"/>
<polygon points="283.2,318.6 287.7,318.6 287.7,323.4 283.2,323.4" fill="#111" stroke="#111" stroke-width="1.2" stroke-linejoin="miter"/>
<circle cx="304.3" cy="330.7" r="3" fill="#111"/>
<circle cx="320" cy="337.4" r="4.6" fill="none" stroke="#111" stroke-width="2.2"/>
<line x1="282.5" y1="326.2" x2="300.5" y2="335.1" stroke="#111" stroke-width="1.2" stroke-dasharray="2 1.5"/>
<line x1="281.2" y1="352.5" x2="291.5" y2="341.6" stroke="#111" stroke-width="2.2"/>
<g transform="translate(259,421) rotate(28) scale(1,-1) rotate(-28) translate(-259,-421)">
<polyline points="271.9,333.5 276.4,324.2 281.2,323.3 283.5,319.5" fill="none" stroke="#111" stroke-width="2.0" stroke-linejoin="miter"/>
<polygon points="288.9,319.4 299.8,324.2 297.9,329.2 287.3,324.4" fill="none" stroke="#111" stroke-width="1.9" stroke-linejoin="miter"/>
<line x1="281.5" y1="320.5" x2="316.5" y2="339.6" stroke="#111" stroke-width="2.8"/>
<polygon points="283.2,318.6 287.7,318.6 287.7,323.4 283.2,323.4" fill="#111" stroke="#111" stroke-width="1.2" stroke-linejoin="miter"/>
<circle cx="304.3" cy="330.7" r="3" fill="#111"/>
<circle cx="320" cy="337.4" r="4.6" fill="none" stroke="#111" stroke-width="2.2"/>
<line x1="282.5" y1="326.2" x2="300.5" y2="335.1" stroke="#111" stroke-width="1.2" stroke-dasharray="2 1.5"/>
<line x1="281.2" y1="352.5" x2="291.5" y2="341.6" stroke="#111" stroke-width="2.2"/>
</g>
</g>
<line x1="907.8" y1="264.5" x2="956" y2="264.5" stroke="#111" stroke-width="1.2"/>
<line x1="907.8" y1="264" x2="887.7" y2="295" stroke="#111" stroke-width="1.2"/>
<polygon points="887.7,295 900.5,281 893.5,277" fill="#111"/>
<line x1="911.5" y1="291.5" x2="991.5" y2="291.5" stroke="#111" stroke-width="1.2"/>
<line x1="911.5" y1="291.8" x2="862" y2="311" stroke="#111" stroke-width="1.2"/>
<polygon points="862,311 879.5,308.2 876.5,300.8" fill="#111"/>
<line x1="903.2" y1="295" x2="885.8" y2="328" stroke="#111" stroke-width="1.2" stroke-dasharray="20 3 2 3"/>
<line x1="635.3" y1="343.5" x2="1057" y2="343.5" stroke="#111" stroke-width="1.2"/>
<line x1="639.5" y1="333" x2="639.5" y2="690" stroke="#111" stroke-width="1.2" stroke-dasharray="20 3 2 3"/>
<line x1="745" y1="373.3" x2="928.3" y2="464" stroke="#111" stroke-width="1.2" stroke-dasharray="20 3 2 3"/>
<circle cx="926.7" cy="388.8" r="17.8" fill="none" stroke="#111" stroke-width="2.4"/>
<circle cx="926.7" cy="388.8" r="11.6" fill="none" stroke="#111" stroke-width="2.2"/>
<path d="M941,378.5 Q952.4,392 952.4,410 L952.4,539" fill="none" stroke="#111" stroke-width="2.4"/>
<line x1="905.6" y1="389.5" x2="959.2" y2="389.5" stroke="#111" stroke-width="1.2" stroke-dasharray="20 3 2 3"/>
<line x1="927.5" y1="370" x2="927.5" y2="407" stroke="#111" stroke-width="1.2" stroke-dasharray="20 3 2 3"/>
<circle cx="863.5" cy="511.4" r="18.1" fill="none" stroke="#111" stroke-width="2.4"/>
<circle cx="863.5" cy="511.4" r="11.1" fill="none" stroke="#111" stroke-width="2.2"/>
<line x1="847" y1="511.5" x2="890" y2="511.5" stroke="#111" stroke-width="1.2" stroke-dasharray="20 3 2 3"/>
<line x1="863.5" y1="490" x2="863.5" y2="533" stroke="#111" stroke-width="1.2" stroke-dasharray="20 3 2 3"/>
<path d="M845.5,513 Q843,528 831.3,533.1 Q824.7,537 824.7,541.4 L824.7,549.6" fill="none" stroke="#111" stroke-width="2.2"/>
<path d="M824.7,539 L951.8,539 Q955,539 955.7,544 L955.7,549.6" fill="none" stroke="#111" stroke-width="2.2"/>
<polygon points="835.5,539 849.5,539 849.5,549.6 835.5,549.6" fill="none" stroke="#111" stroke-width="1.6" stroke-linejoin="miter"/>
<line x1="842.5" y1="533" x2="842.5" y2="560" stroke="#111" stroke-width="1.2" stroke-dasharray="20 3 2 3"/>
<polygon points="932,539 945.2,539 945.2,549.6 932,549.6" fill="none" stroke="#111" stroke-width="1.6" stroke-linejoin="miter"/>
<line x1="938.5" y1="533" x2="938.5" y2="560" stroke="#111" stroke-width="1.2" stroke-dasharray="20 3 2 3"/>
<clipPath id="h676"><rect x="676" y="549.4" width="377" height="32"/></clipPath><g clip-path="url(#h676)">
<line x1="670.6" y1="550.4" x2="689.6" y2="569.4" stroke="#111" stroke-width="1.3"/>
<line x1="688.7" y1="550.4" x2="659.7" y2="579.4" stroke="#111" stroke-width="1.3"/>
<line x1="688.7" y1="550.4" x2="707.7" y2="569.4" stroke="#111" stroke-width="1.3"/>
<line x1="706.8" y1="550.4" x2="677.8" y2="579.4" stroke="#111" stroke-width="1.3"/>
<line x1="706.8" y1="550.4" x2="725.8" y2="569.4" stroke="#111" stroke-width="1.3"/>
<line x1="724.9" y1="550.4" x2="695.9" y2="579.4" stroke="#111" stroke-width="1.3"/>
<line x1="724.9" y1="550.4" x2="743.9" y2="569.4" stroke="#111" stroke-width="1.3"/>
<line x1="743" y1="550.4" x2="714" y2="579.4" stroke="#111" stroke-width="1.3"/>
<line x1="743" y1="550.4" x2="762" y2="569.4" stroke="#111" stroke-width="1.3"/>
<line x1="761.1" y1="550.4" x2="732.1" y2="579.4" stroke="#111" stroke-width="1.3"/>
<line x1="761.1" y1="550.4" x2="780.1" y2="569.4" stroke="#111" stroke-width="1.3"/>
<line x1="779.2" y1="550.4" x2="750.2" y2="579.4" stroke="#111" stroke-width="1.3"/>
<line x1="779.2" y1="550.4" x2="798.2" y2="569.4" stroke="#111" stroke-width="1.3"/>
<line x1="797.3" y1="550.4" x2="768.3" y2="579.4" stroke="#111" stroke-width="1.3"/>
<line x1="797.3" y1="550.4" x2="816.3" y2="569.4" stroke="#111" stroke-width="1.3"/>
<line x1="815.4" y1="550.4" x2="786.4" y2="579.4" stroke="#111" stroke-width="1.3"/>
<line x1="815.4" y1="550.4" x2="834.4" y2="569.4" stroke="#111" stroke-width="1.3"/>
<line x1="833.5" y1="550.4" x2="804.5" y2="579.4" stroke="#111" stroke-width="1.3"/>
<line x1="833.5" y1="550.4" x2="852.5" y2="569.4" stroke="#111" stroke-width="1.3"/>
<line x1="851.6" y1="550.4" x2="822.6" y2="579.4" stroke="#111" stroke-width="1.3"/>
<line x1="851.6" y1="550.4" x2="870.6" y2="569.4" stroke="#111" stroke-width="1.3"/>
<line x1="869.7" y1="550.4" x2="840.7" y2="579.4" stroke="#111" stroke-width="1.3"/>
<line x1="869.7" y1="550.4" x2="888.7" y2="569.4" stroke="#111" stroke-width="1.3"/>
<line x1="887.8" y1="550.4" x2="858.8" y2="579.4" stroke="#111" stroke-width="1.3"/>
<line x1="887.8" y1="550.4" x2="906.8" y2="569.4" stroke="#111" stroke-width="1.3"/>
<line x1="905.9" y1="550.4" x2="876.9" y2="579.4" stroke="#111" stroke-width="1.3"/>
<line x1="905.9" y1="550.4" x2="924.9" y2="569.4" stroke="#111" stroke-width="1.3"/>
<line x1="924" y1="550.4" x2="895" y2="579.4" stroke="#111" stroke-width="1.3"/>
<line x1="924" y1="550.4" x2="943" y2="569.4" stroke="#111" stroke-width="1.3"/>
<line x1="942.1" y1="550.4" x2="913.1" y2="579.4" stroke="#111" stroke-width="1.3"/>
<line x1="942.1" y1="550.4" x2="961.1" y2="569.4" stroke="#111" stroke-width="1.3"/>
<line x1="960.2" y1="550.4" x2="931.2" y2="579.4" stroke="#111" stroke-width="1.3"/>
<line x1="960.2" y1="550.4" x2="979.2" y2="569.4" stroke="#111" stroke-width="1.3"/>
<line x1="978.3" y1="550.4" x2="949.3" y2="579.4" stroke="#111" stroke-width="1.3"/>
<line x1="978.3" y1="550.4" x2="997.3" y2="569.4" stroke="#111" stroke-width="1.3"/>
<line x1="996.4" y1="550.4" x2="967.4" y2="579.4" stroke="#111" stroke-width="1.3"/>
<line x1="996.4" y1="550.4" x2="1015.4" y2="569.4" stroke="#111" stroke-width="1.3"/>
<line x1="1014.5" y1="550.4" x2="985.5" y2="579.4" stroke="#111" stroke-width="1.3"/>
<line x1="1014.5" y1="550.4" x2="1033.5" y2="569.4" stroke="#111" stroke-width="1.3"/>
<line x1="1032.6" y1="550.4" x2="1003.6" y2="579.4" stroke="#111" stroke-width="1.3"/>
<line x1="1032.6" y1="550.4" x2="1051.6" y2="569.4" stroke="#111" stroke-width="1.3"/>
<line x1="1050.7" y1="550.4" x2="1021.7" y2="579.4" stroke="#111" stroke-width="1.3"/>
<line x1="1050.7" y1="550.4" x2="1069.7" y2="569.4" stroke="#111" stroke-width="1.3"/>
<line x1="1068.8" y1="550.4" x2="1039.8" y2="579.4" stroke="#111" stroke-width="1.3"/>
<line x1="1068.8" y1="550.4" x2="1087.8" y2="569.4" stroke="#111" stroke-width="1.3"/>
</g>
<line x1="675.3" y1="550" x2="1052.7" y2="550" stroke="#111" stroke-width="2.6"/>
<line x1="1029.5" y1="343" x2="1029.5" y2="550" stroke="#111" stroke-width="1.2"/>
<polygon points="1029.5,343 1025.8,371 1033.2,371" fill="#111"/>
<polygon points="1029.5,550 1033.2,522 1025.8,522" fill="#111"/>
<text x="0" y="0" font-size="22" font-family="'Liberation Serif',serif" text-anchor="middle" fill="#111" stroke="#111" stroke-width="0.25" transform="translate(1022,445) rotate(-90) scale(0.8,1)">H</text>
<line x1="957.8" y1="540.5" x2="1021" y2="540.5" stroke="#111" stroke-width="1.2"/>
<line x1="1006.5" y1="492" x2="1006.5" y2="580" stroke="#111" stroke-width="1.2"/>
<polygon points="1006.3,540 1010,512 1002.6,512" fill="#111"/>
<polygon points="1006.3,550 1002.6,578 1010,578" fill="#111"/>
<text x="0" y="0" font-size="22" font-family="'Liberation Serif',serif" text-anchor="middle" fill="#111" stroke="#111" stroke-width="0.25" transform="translate(996.7,504) rotate(-90) scale(0.8,1)">L</text>
<line x1="639.5" y1="343" x2="639.5" y2="689.7" stroke="#111" stroke-width="1.2"/>
<line x1="824.5" y1="550" x2="824.5" y2="658" stroke="#111" stroke-width="1.2"/>
<line x1="841.5" y1="573.7" x2="841.5" y2="626.4" stroke="#111" stroke-width="1.2"/>
<line x1="939.5" y1="580" x2="939.5" y2="626.4" stroke="#111" stroke-width="1.2"/>
<line x1="956.5" y1="552.6" x2="956.5" y2="689.7" stroke="#111" stroke-width="1.2"/>
<line x1="639" y1="612.5" x2="939.6" y2="612.5" stroke="#111" stroke-width="1.2"/>
<polygon points="639,612.5 667,616.2 667,608.8" fill="#111"/>
<polygon points="824.5,612.5 796.5,608.8 796.5,616.2" fill="#111"/>
<polygon points="841.3,612.5 869.3,616.2 869.3,608.8" fill="#111"/>
<polygon points="939.6,612.5 911.6,608.8 911.6,616.2" fill="#111"/>
<text x="0" y="0" font-size="22" font-family="'Liberation Serif',serif" text-anchor="middle" fill="#111" stroke="#111" stroke-width="0.25" transform="translate(740.2,606.3) scale(0.8,1)">D</text>
<text x="0" y="0" font-size="22" font-family="'Liberation Serif',serif" text-anchor="middle" fill="#111" stroke="#111" stroke-width="0.25" transform="translate(889.8,606.3) scale(0.8,1)">C</text>
<line x1="824.5" y1="643.5" x2="956.4" y2="643.5" stroke="#111" stroke-width="1.2"/>
<polygon points="824.5,643.3 852.5,647 852.5,639.6" fill="#111"/>
<polygon points="956.4,643.3 928.4,639.6 928.4,647" fill="#111"/>
<text x="0" y="0" font-size="22" font-family="'Liberation Serif',serif" text-anchor="middle" fill="#111" stroke="#111" stroke-width="0.25" transform="translate(889.8,639.6) scale(0.8,1)">E</text>
<line x1="639" y1="675.5" x2="956.4" y2="675.5" stroke="#111" stroke-width="1.2"/>
<polygon points="639,675 667,678.7 667,671.3" fill="#111"/>
<polygon points="956.4,675 928.4,671.3 928.4,678.7" fill="#111"/>
<text x="0" y="0" font-size="22" font-family="'Liberation Serif',serif" text-anchor="middle" fill="#111" stroke="#111" stroke-width="0.25" transform="translate(797,670) scale(0.8,1)">F</text>
<g transform="translate(511.5,60.4)">
<polygon points="247.3,634.2 254.7,634.2 254.7,639.7 247.3,639.7" fill="none" stroke="#111" stroke-width="1.6" stroke-linejoin="miter"/>
<polygon points="271.2,634.2 279.4,634.2 279.4,639.7 271.2,639.7" fill="none" stroke="#111" stroke-width="1.6" stroke-linejoin="miter"/>
<polygon points="329.8,634.2 339,634.2 339,639.7 329.8,639.7" fill="none" stroke="#111" stroke-width="1.6" stroke-linejoin="miter"/>
<polygon points="388.5,634.2 396.7,634.2 396.7,639.7 388.5,639.7" fill="none" stroke="#111" stroke-width="1.6" stroke-linejoin="miter"/>
<polygon points="412.3,634.2 421.5,634.2 421.5,639.7 412.3,639.7" fill="none" stroke="#111" stroke-width="1.6" stroke-linejoin="miter"/>
<polygon points="245.5,639.7 422.4,639.7 422.4,661.7 245.5,661.7" fill="none" stroke="#111" stroke-width="2.4" stroke-linejoin="miter"/>
<line x1="245.5" y1="647" x2="422.4" y2="647" stroke="#111" stroke-width="2.0"/>
<polyline points="257.4,661.7 257.4,684 261,687.3 406.8,687.3 410.5,684 410.5,661.7" fill="none" stroke="#111" stroke-width="2.2" stroke-linejoin="miter"/>
<line x1="257.4" y1="683.7" x2="410.5" y2="683.7" stroke="#111" stroke-width="1.6"/>
<polygon points="327,688 340.8,688 340.8,700 327,700" fill="none" stroke="#111" stroke-width="1.8" stroke-linejoin="miter"/>
<polyline points="293.2,689.2 293.2,713 357.3,713" fill="none" stroke="#111" stroke-width="2.0" stroke-linejoin="miter"/>
<line x1="300" y1="689.2" x2="315.2" y2="700.2" stroke="#111" stroke-width="2.0"/>
<line x1="372" y1="689.2" x2="353.7" y2="700.2" stroke="#111" stroke-width="2.0"/>
<polyline points="314.2,713 314.2,702 317,699.2 351.5,699.2 354.6,702 354.6,713" fill="none" stroke="#111" stroke-width="2.0" stroke-linejoin="miter"/>
<polyline points="375.7,689.2 408.7,713 410.5,716.7" fill="none" stroke="#111" stroke-width="2.0" stroke-linejoin="miter"/>
<path d="M357.3,713 L376,713 Q380.2,713.5 380.2,717" fill="none" stroke="#111" stroke-width="2.0"/>
<polygon points="380.2,716.7 416.9,716.7 416.9,809.2 380.2,809.2" fill="none" stroke="#111" stroke-width="2.2" stroke-linejoin="miter"/>
<line x1="387.5" y1="716.7" x2="387.5" y2="809.2" stroke="#111" stroke-width="1.2" stroke-dasharray="3 2"/>
<line x1="409.5" y1="716.7" x2="409.5" y2="809.2" stroke="#111" stroke-width="1.2" stroke-dasharray="3 2"/>
<line x1="398.5" y1="716.7" x2="398.5" y2="809.2" stroke="#111" stroke-width="1.3"/>
<line x1="380.2" y1="716.7" x2="380.2" y2="809.2" stroke="#111" stroke-width="2.4"/>
<polygon points="311.5,713 357.3,713 357.3,718.5 311.5,718.5" fill="none" stroke="#111" stroke-width="1.8" stroke-linejoin="miter"/>
<polygon points="305,718.5 368.3,718.5 368.3,728.6 305,728.6" fill="none" stroke="#111" stroke-width="2.0" stroke-linejoin="miter"/>
<circle cx="310.6" cy="723.4" r="3" fill="none" stroke="#111" stroke-width="2.6"/>
<circle cx="333.5" cy="723.4" r="3" fill="none" stroke="#111" stroke-width="2.6"/>
<line x1="310.6" y1="723.4" x2="333.5" y2="723.4" stroke="#111" stroke-width="1.6"/>
<polygon points="308.7,728.6 364.7,728.6 364.7,738.7 308.7,738.7" fill="none" stroke="#111" stroke-width="2.0" stroke-linejoin="miter"/>
<polyline points="364.7,738.7 368.3,738.7 368.3,764.3 364.7,764.3" fill="none" stroke="#111" stroke-width="2.0" stroke-linejoin="miter"/>
<polygon points="308.7,764.3 364.7,764.3 364.7,774.4 308.7,774.4" fill="none" stroke="#111" stroke-width="2.0" stroke-linejoin="miter"/>
<polygon points="305,774.4 368.3,774.4 368.3,782.7 305,782.7" fill="none" stroke="#111" stroke-width="2.0" stroke-linejoin="miter"/>
<circle cx="310.6" cy="779" r="3" fill="none" stroke="#111" stroke-width="2.6"/>
<circle cx="333.5" cy="779" r="3" fill="none" stroke="#111" stroke-width="2.6"/>
<line x1="310.6" y1="779" x2="333.5" y2="779" stroke="#111" stroke-width="1.6"/>
<polyline points="293.2,782.7 380.2,782.7" fill="none" stroke="#111" stroke-width="2.0" stroke-linejoin="miter"/>
<polyline points="293.2,782.7 293.2,804 328,809.2 380.2,809.2" fill="none" stroke="#111" stroke-width="2.0" stroke-linejoin="miter"/>
<line x1="293.2" y1="804" x2="314.2" y2="798.2" stroke="#111" stroke-width="2.0"/>
<line x1="353.7" y1="798.2" x2="380.2" y2="809.2" stroke="#111" stroke-width="2.0"/>
<polyline points="314.2,784.5 314.2,796 317,798.2 351,798.2 353.7,796 353.7,784.5" fill="none" stroke="#111" stroke-width="2.0" stroke-linejoin="miter"/>
<polygon points="328,798.2 340,798.2 340,809.2 328,809.2" fill="none" stroke="#111" stroke-width="1.6" stroke-linejoin="miter"/>
<line x1="368.3" y1="782.7" x2="380.2" y2="782.7" stroke="#111" stroke-width="2.0"/>
<line x1="333.5" y1="628" x2="333.5" y2="812" stroke="#111" stroke-width="1.2" stroke-dasharray="20 3 2 3"/>
</g>
<line x1="681" y1="799.5" x2="881" y2="799.5" stroke="#111" stroke-width="1.2" stroke-dasharray="14 3 2 3"/>
<line x1="681" y1="812.5" x2="881" y2="812.5" stroke="#111" stroke-width="1.2"/>
<line x1="681" y1="824.5" x2="881" y2="824.5" stroke="#111" stroke-width="1.2" stroke-dasharray="14 3 2 3"/>
<polygon points="928,835.4 977.4,835.4 977.4,925.2 885,925.2 885,870 928,870" fill="none" stroke="#111" stroke-width="2.4" stroke-linejoin="miter"/>
<polygon points="890.8,876.5 929.3,876.5 929.3,905.3 890.8,905.3" fill="none" stroke="#111" stroke-width="2.2" stroke-linejoin="miter"/>
<polygon points="885,878.5 890.8,878.5 890.8,901.5 885,901.5" fill="none" stroke="#111" stroke-width="1.6" stroke-linejoin="miter"/>
<line x1="931.2" y1="878.4" x2="971" y2="871.3" stroke="#111" stroke-width="2.0"/>
<line x1="931.2" y1="902.8" x2="971" y2="909.2" stroke="#111" stroke-width="2.0"/>
<line x1="967.8" y1="877.5" x2="967.8" y2="904.5" stroke="#111" stroke-width="2.0"/>
<line x1="878.6" y1="890.5" x2="983.2" y2="890.5" stroke="#111" stroke-width="1.2" stroke-dasharray="20 3 2 3"/>
<line x1="898.5" y1="870" x2="898.5" y2="925" stroke="#111" stroke-width="1.2" stroke-dasharray="3 2"/>
<line x1="920.5" y1="870" x2="920.5" y2="905" stroke="#111" stroke-width="1.2" stroke-dasharray="3 2"/>
<line x1="909.5" y1="870" x2="909.5" y2="925" stroke="#111" stroke-width="1.2"/>
<circle cx="898.5" cy="918.2" r="3.4" fill="none" stroke="#111" stroke-width="1.6"/>
<line x1="895.1" y1="918.5" x2="901.9" y2="918.5" stroke="#111" stroke-width="0.8"/>
<line x1="898.5" y1="914.8" x2="898.5" y2="921.6" stroke="#111" stroke-width="0.8"/>
<circle cx="962.7" cy="918.2" r="3.4" fill="none" stroke="#111" stroke-width="1.6"/>
<line x1="959.3" y1="918.5" x2="966.1" y2="918.5" stroke="#111" stroke-width="0.8"/>
<line x1="962.5" y1="914.8" x2="962.5" y2="921.6" stroke="#111" stroke-width="0.8"/>
<circle cx="962.7" cy="843.1" r="3.4" fill="none" stroke="#111" stroke-width="1.6"/>
<line x1="959.3" y1="843.5" x2="966.1" y2="843.5" stroke="#111" stroke-width="0.8"/>
<line x1="962.5" y1="839.7" x2="962.5" y2="846.5" stroke="#111" stroke-width="0.8"/>
<line x1="962.5" y1="690" x2="962.5" y2="850" stroke="#111" stroke-width="1.2"/>
<line x1="747.5" y1="901.5" x2="867.5" y2="901.5" stroke="#111" stroke-width="1.2"/>
<line x1="867.5" y1="901.6" x2="897.5" y2="918" stroke="#111" stroke-width="1.2"/>
<polygon points="895,915.5 876.2,901.3 872.8,907.7" fill="#111"/>
<text x="0" y="0" font-size="23" font-family="'Liberation Serif',serif" fill="#111" stroke="#111" stroke-width="0.2" transform="translate(746.5,897.7) scale(0.78,1)">4</text>
<text x="0" y="0" font-size="23" font-family="'Liberation Serif',serif" fill="#111" stroke="#111" stroke-width="0.2" transform="translate(760.5,897.7) scale(1.2,1)">×</text>
<text x="0" y="0" font-size="20" font-family="'Liberation Serif',serif" fill="#111" stroke="#111" stroke-width="0.2" transform="translate(785,896.5) scale(0.95,1)">ϕ</text>
<text x="0" y="0" font-size="23" font-family="'Liberation Serif',serif" fill="#111" stroke="#111" stroke-width="0.2" transform="translate(802.5,897.7) scale(0.78,1)">G</text>
<line x1="945.5" y1="848" x2="945.5" y2="943" stroke="#111" stroke-width="1.2"/>
<polygon points="945.3,870.6 948.8,848.6 941.8,848.6" fill="#111"/>
<polygon points="945.3,901.3 941.8,918.3 948.8,918.3" fill="#111"/>
<polygon points="962.7,866 965.5,847 959.9,847" fill="#111"/>
<polygon points="962.7,877.5 959.9,898.5 965.5,898.5" fill="#111"/>
<text x="0" y="0" font-size="21" font-family="'Liberation Serif',serif" text-anchor="middle" fill="#111" stroke="#111" stroke-width="0.25" transform="translate(939,940.6) rotate(-90) scale(0.8,1)">30</text>
<line x1="977.4" y1="835.5" x2="1080" y2="835.5" stroke="#111" stroke-width="1.2"/>
<line x1="977.4" y1="924.5" x2="1080" y2="924.5" stroke="#111" stroke-width="1.2"/>
<line x1="977.4" y1="843.5" x2="1035.7" y2="843.5" stroke="#111" stroke-width="1.2"/>
<line x1="977.4" y1="917.5" x2="1035.7" y2="917.5" stroke="#111" stroke-width="1.2"/>
<line x1="1020.5" y1="842.7" x2="1020.5" y2="917.3" stroke="#111" stroke-width="1.2"/>
<polygon points="1020.5,842.7 1016.8,870.7 1024.2,870.7" fill="#111"/>
<polygon points="1020.5,917.3 1024.2,889.3 1016.8,889.3" fill="#111"/>
<text x="0" y="0" font-size="22" font-family="'Liberation Serif',serif" text-anchor="middle" fill="#111" stroke="#111" stroke-width="0.25" transform="translate(1019.3,877) rotate(-90) scale(0.8,1)">J</text>
<line x1="1056.5" y1="835" x2="1056.5" y2="924.5" stroke="#111" stroke-width="1.2"/>
<polygon points="1056.3,835 1052.6,863 1060,863" fill="#111"/>
<polygon points="1056.3,924.5 1060,896.5 1052.6,896.5" fill="#111"/>
<text x="0" y="0" font-size="22" font-family="'Liberation Serif',serif" text-anchor="middle" fill="#111" stroke="#111" stroke-width="0.25" transform="translate(1053.1,877) rotate(-90) scale(0.8,1)">K</text>
<text x="0" y="0" font-size="14.3" letter-spacing="0.8" stroke="#111" stroke-width="0.3" font-family="'Liberation Sans',sans-serif" fill="#111" transform="translate(986,818) rotate(-90)">如果盘轴水平：<tspan dx="0">10</tspan></text>
<text x="0" y="0" font-size="14.3" letter-spacing="0.8" stroke="#111" stroke-width="0.3" font-family="'Liberation Sans',sans-serif" fill="#111" transform="translate(1008,818) rotate(-90)">如果盘轴垂直：<tspan dx="0">21</tspan></text>
<text x="342" y="263.2" font-size="16" font-family='"Liberation Sans",sans-serif' text-anchor="start" font-style="normal" font-weight="normal" fill="#111" stroke="#111" stroke-width="0.35">ϕ 盘</text>
<text x="377" y="263.2" font-size="16" font-family='"Liberation Sans",sans-serif' text-anchor="start" font-style="normal" font-weight="normal" fill="#111" stroke="#111" stroke-width="0.35">A</text>
<text x="344.5" y="288.8" font-size="16.2" font-family='"Liberation Sans",sans-serif' text-anchor="start" font-style="normal" font-weight="normal" fill="#111" stroke="#111" stroke-width="0.35">制动轨迹B</text>
<text x="342" y="323.3" font-size="16.2" font-family='"Liberation Sans",sans-serif' text-anchor="start" font-style="normal" font-weight="normal" fill="#111" stroke="#111" stroke-width="0.35">6孔、</text>
<text x="386" y="323.3" font-size="16.2" font-family='"Liberation Sans",sans-serif' text-anchor="start" font-style="normal" font-weight="normal" fill="#111" stroke="#111" stroke-width="0.35">W</text>
<text x="406.5" y="323.3" font-size="16.2" font-family='"Liberation Sans",sans-serif' text-anchor="start" font-style="normal" font-weight="normal" fill="#111" stroke="#111" stroke-width="0.35">or</text>
<text x="428.5" y="323.3" font-size="16.2" font-family='"Liberation Sans",sans-serif' text-anchor="start" font-style="normal" font-weight="normal" fill="#111" stroke="#111" stroke-width="0.35">ϕ</text>
<text x="443.5" y="323.3" font-size="16.2" font-family='"Liberation Sans",sans-serif' text-anchor="start" font-style="normal" font-weight="normal" fill="#111" stroke="#111" stroke-width="0.35">X(任选)</text>
<text x="913" y="257.5" font-size="16.5" font-family='"Liberation Sans",sans-serif' text-anchor="start" font-style="normal" font-weight="normal" fill="#111" stroke="#111" stroke-width="0.35">ϕ 盘</text>
<text x="947.5" y="257.5" font-size="16.5" font-family='"Liberation Sans",sans-serif' text-anchor="start" font-style="normal" font-weight="normal" fill="#111" stroke="#111" stroke-width="0.35">A</text>
<text x="911" y="288.3" font-size="16.9" font-family='"Liberation Sans",sans-serif' text-anchor="start" font-style="normal" font-weight="normal" fill="#111" stroke="#111" stroke-width="0.35">制动轨迹B</text></svg>
</body></html>
